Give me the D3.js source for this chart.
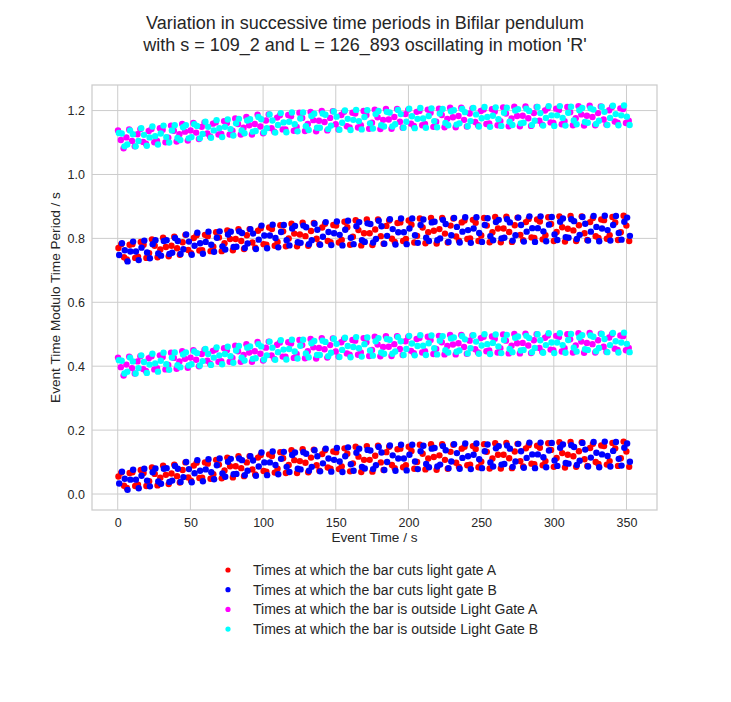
<!DOCTYPE html>
<html><head><meta charset="utf-8">
<script src="https://cdn.jsdelivr.net/npm/d3@7"></script>
<style>
body{margin:0;background:#fff}
text{font-family:"Liberation Sans",Arial,Helvetica,sans-serif;fill:#262626}
</style>
</head><body>
<svg id="chart" width="731" height="702"></svg>
<script>
// ---------- data (y values in milliseconds) ----------
const titleLines = ["Variation in successive time periods in Bifilar pendulum",
                    "with s = 109_2 and L = 126_893 oscillating in motion 'R'"];
const xLabel = "Event Time / s";
const yLabel = "Event Time Modulo Time Period / s";
const xTickValues = [0, 50, 100, 150, 200, 250, 300, 350];
const yTickValues = [0.0, 0.2, 0.4, 0.6, 0.8, 1.0, 1.2];
const legendLabels = ["Times at which the bar cuts light gate A",
                      "Times at which the bar cuts light gate B",
                      "Times at which the bar is outside Light Gate A",
                      "Times at which the bar is outside Light Gate B"];
const seriesColors = ["#ff0000", "#0000ff", "#ff00ff", "#00ffff"];
const eventStep = 1.92;            // seconds between successive events of one kind
const eventStart = [0.5, 1.0, 0.2, 0.8];

const redLowMs = [55,67,26,19,66,68,25,29,75,66,25,40,83,63,27,51,89,60,31,64,92,56,36,75,99,52,42,89,98,50,51,99,95,48,62,107,92,49,74,114,87,52,87,118,81,56,99,118,77,61,114,122,72,70,124,119,67,79,131,112,66,91,137,106,66,103,140,98,68,114,139,90,73,125,137,83,79,133,131,78,86,143,126,71,96,148,117,69,107,150,107,70,120,151,99,75,131,148,91,81,140,142,84,90,148,135,79,100,154,126,77,111,156,116,76,121,156,107,79,132,154,98,85,142,148,90,92,150,141,84,101,156,132,80,111,159,123,80,123,160,112,81,133,157,103,86,143,153,95,93,151,145,90,103,159,138,85,113,162,128,83,123,163,118,85,134,162,109,88,144,157,100,94,152,150,92,103,160,143,88,112,164,133,85];
const redHighMs = [770,782,741,734,780,782,739,743,789,780,739,754,797,777,741,765,802,773,744,777,805,769,749,788,811,764,754,801,810,762,763,811,807,760,774,819,803,760,785,825,798,763,798,829,792,767,810,829,787,771,824,832,782,780,834,829,777,789,841,822,775,800,846,815,775,812,849,807,777,823,848,799,782,834,846,792,788,842,840,787,795,852,835,780,805,857,826,778,816,859,816,779,828,859,807,783,839,856,799,789,848,850,792,798,856,843,787,808,862,834,785,819,864,824,784,829,864,815,787,840,862,806,793,850,856,798,800,858,849,792,809,864,840,788,819,867,831,788,831,868,820,789,841,865,811,794,851,861,803,801,859,853,797,810,866,845,792,820,869,835,790,830,870,825,792,841,869,816,795,851,864,807,801,859,857,799,810,867,850,795,819,871,840,792];
const blueLowMs = [33,70,48,13,45,76,45,18,57,79,42,24,68,80,39,32,79,81,38,42,88,79,38,53,100,78,37,65,106,73,40,77,109,68,46,90,111,64,54,101,110,62,63,111,106,59,73,118,105,57,86,130,99,59,99,133,91,62,110,132,85,69,122,130,79,77,131,126,73,85,137,118,71,96,142,111,70,107,144,102,69,118,146,93,73,129,142,85,80,138,136,78,90,147,130,75,100,152,121,73,111,154,111,74,123,154,102,78,134,151,94,84,142,144,86,92,150,137,81,102,156,128,79,113,158,118,78,123,158,109,81,134,155,99,86,143,150,92,94,152,142,85,102,157,134,82,113,161,124,81,124,161,115,84,136,160,105,88,145,155,97,95,153,147,91,104,160,139,86,114,163,129,84,124,164,119,86,135,163,110,89,145,158,101];
const blueHighMs = [748,785,763,728,759,790,759,732,771,793,756,738,782,794,753,746,792,794,751,755,801,792,751,766,812,790,749,777,818,785,752,789,821,780,758,802,822,775,765,812,821,773,774,822,817,770,784,829,815,767,796,840,809,769,809,843,801,772,820,842,794,778,831,839,788,786,840,835,782,794,846,827,780,805,851,820,779,816,853,811,778,827,855,802,782,838,851,794,789,847,845,787,798,855,838,783,808,860,829,781,819,862,819,782,831,862,810,786,842,859,802,792,850,852,794,800,858,845,789,810,864,836,787,821,866,826,786,831,866,817,789,842,863,807,794,851,858,800,802,860,850,793,810,865,842,790,821,869,832,789,832,869,822,791,843,867,812,795,852,862,804,802,860,854,798,811,867,846,793,821,870,836,791,831,871,826,793,842,870,817,796,852,865,808];
const magentaLowMs = [427,397,371,405,430,394,377,415,431,391,385,425,431,390,394,434,429,390,404,442,426,392,415,447,423,395,427,450,420,400,438,452,417,408,448,452,414,416,456,450,414,426,464,447,414,435,469,443,414,447,476,439,418,458,477,434,423,467,474,430,430,475,471,426,438,482,466,425,447,485,459,424,457,488,453,427,466,487,446,430,475,485,440,436,482,480,436,443,488,475,432,451,492,468,431,460,494,461,432,469,494,454,435,478,492,448,441,485,488,443,447,492,482,438,454,495,475,437,463,498,468,437,472,498,460,439,480,496,453,443,488,492,447,449,493,486,443,456,499,480,440,464,501,472,440,473,502,465,441,481,500,457,445,489,496,452,450,495,491,446,456,500,484,443,465,503,477,442,473,504,469,443,481,502,461,445,490,500,455,451,496,494,450,457];
const magentaHighMs = [1138,1108,1082,1116,1141,1105,1088,1126,1142,1102,1096,1136,1142,1101,1105,1145,1140,1101,1115,1153,1137,1103,1126,1158,1134,1106,1138,1161,1131,1111,1149,1163,1128,1119,1159,1163,1125,1127,1167,1161,1125,1137,1175,1158,1125,1146,1180,1154,1125,1158,1187,1150,1129,1169,1188,1145,1134,1178,1185,1141,1141,1186,1182,1137,1149,1193,1177,1136,1158,1196,1170,1135,1168,1199,1164,1138,1177,1198,1157,1141,1186,1196,1151,1147,1193,1191,1147,1154,1199,1186,1143,1162,1203,1179,1142,1171,1205,1172,1143,1180,1205,1165,1146,1189,1203,1159,1152,1196,1199,1154,1158,1203,1193,1149,1165,1206,1186,1148,1174,1209,1179,1148,1183,1209,1171,1150,1191,1207,1164,1154,1199,1203,1158,1160,1204,1197,1154,1167,1210,1191,1151,1175,1212,1183,1151,1184,1213,1176,1152,1192,1211,1168,1156,1200,1207,1163,1161,1206,1202,1157,1167,1211,1195,1154,1176,1214,1188,1153,1184,1215,1180,1154,1192,1213,1172,1156,1201,1211,1166,1162,1207,1205,1161,1168];
const cyanLowMs = [419,417,377,383,427,415,377,394,434,413,379,405,439,409,383,417,442,406,389,427,443,403,397,437,443,402,406,446,441,402,416,454,438,404,427,459,434,406,438,461,431,411,449,463,427,418,458,462,423,425,469,462,421,434,477,458,420,444,481,452,421,454,483,446,424,464,483,440,428,472,479,435,435,480,476,431,442,486,470,429,451,489,463,428,460,491,456,430,469,490,449,433,478,488,443,439,485,483,439,446,491,478,435,454,495,471,434,463,497,464,435,472,496,456,437,480,494,450,443,487,490,445,449,494,484,440,456,497,477,439,465,500,469,438,473,499,462,441,482,498,454,444,489,493,449,451,495,488,444,457,500,481,442,466,503,474,441,474,503,466,442,482,501,458,446,490,497,453,451,496,492,447,457,501,485,444,466,504,478,443,474,505,470,444];
const cyanHighMs = [1130,1128,1088,1094,1138,1126,1088,1105,1145,1124,1090,1116,1150,1120,1094,1128,1153,1117,1100,1138,1154,1114,1108,1148,1154,1113,1117,1157,1152,1113,1127,1165,1149,1115,1138,1170,1145,1117,1149,1172,1142,1122,1160,1174,1138,1129,1169,1173,1134,1136,1180,1173,1132,1145,1188,1169,1131,1155,1192,1163,1132,1165,1194,1157,1135,1175,1194,1151,1139,1183,1190,1146,1146,1191,1187,1142,1153,1197,1181,1140,1162,1200,1174,1139,1171,1202,1167,1141,1180,1201,1160,1144,1189,1199,1154,1150,1196,1194,1150,1157,1202,1189,1146,1165,1206,1182,1145,1174,1208,1175,1146,1183,1207,1167,1148,1191,1205,1161,1154,1198,1201,1156,1160,1205,1195,1151,1167,1208,1188,1150,1176,1211,1180,1149,1184,1210,1173,1152,1193,1209,1165,1155,1200,1204,1160,1162,1206,1199,1155,1168,1211,1192,1153,1177,1214,1185,1152,1185,1214,1177,1153,1193,1212,1169,1157,1201,1208,1164,1162,1207,1203,1158,1168,1212,1196,1155,1177,1215,1189,1154,1185,1216,1181,1155];

// series index -> its two bands
const seriesBands = [
  [redLowMs, redHighMs],
  [blueLowMs, blueHighMs],
  [magentaLowMs, magentaHighMs],
  [cyanLowMs, cyanHighMs]
];

// ---------- layout ----------
const W = 731, H = 702;
const plot = {left: 92, right: 657, top: 85, bottom: 510};
const svg = d3.select("#chart");

const x = d3.scaleLinear().domain([-17.7, 371]).range([plot.left, plot.right]);
const y = d3.scaleLinear().domain([-0.05, 1.28]).range([plot.bottom, plot.top]);

svg.append("rect").attr("width", W).attr("height", H).attr("fill", "#fff");

// grid
const grid = svg.append("g");
grid.selectAll("line.gx").data(xTickValues).enter().append("line")
  .attr("x1", d => x(d)).attr("x2", d => x(d))
  .attr("y1", plot.top).attr("y2", plot.bottom)
  .attr("stroke", "#cccccc").attr("stroke-width", 1);
grid.selectAll("line.gy").data(yTickValues).enter().append("line")
  .attr("y1", d => y(d)).attr("y2", d => y(d))
  .attr("x1", plot.left).attr("x2", plot.right)
  .attr("stroke", "#cccccc").attr("stroke-width", 1);

// frame
svg.append("rect")
  .attr("x", plot.left).attr("y", plot.top)
  .attr("width", plot.right - plot.left).attr("height", plot.bottom - plot.top)
  .attr("fill", "none").attr("stroke", "#cccccc").attr("stroke-width", 1.25);

// axes (labels only, whitegrid style)
const xAxis = d3.axisBottom(x).tickValues(xTickValues).tickSize(0).tickPadding(8).tickFormat(d3.format("d"));
const yAxis = d3.axisLeft(y).tickValues(yTickValues).tickSize(0).tickPadding(7).tickFormat(d3.format(".1f"));
const gx = svg.append("g").attr("transform", `translate(0,${plot.bottom})`).call(xAxis);
const gy = svg.append("g").attr("transform", `translate(${plot.left},0)`).call(yAxis);
[gx, gy].forEach(g => {
  g.select(".domain").remove();
  g.selectAll("text").style("font-size", "12.5px").style("font-family", '"Liberation Sans",Arial,sans-serif').attr("fill", "#262626");
});

// points
svg.append("clipPath").attr("id", "clipP").append("rect")
  .attr("x", plot.left).attr("y", plot.top)
  .attr("width", plot.right - plot.left).attr("height", plot.bottom - plot.top);
const pts = svg.append("g").attr("clip-path", "url(#clipP)");
seriesBands.forEach((bands, si) => {
  const data = [];
  bands.forEach(arr => arr.forEach((v, i) => data.push({t: eventStart[si] + eventStep * i, v: v / 1000})));
  pts.append("g").selectAll("circle").data(data).enter().append("circle")
    .attr("cx", d => x(d.t)).attr("cy", d => y(d.v)).attr("r", 3.2)
    .attr("fill", seriesColors[si]);
});

// title
svg.append("g").selectAll("text").data(titleLines).enter().append("text")
  .attr("x", 365).attr("y", (d, i) => 28.5 + i * 22)
  .attr("text-anchor", "middle").style("font-size", "18px").text(d => d);

// axis labels
svg.append("text").attr("x", (plot.left + plot.right) / 2).attr("y", 542)
  .attr("text-anchor", "middle").style("font-size", "13.6px").text(xLabel);
svg.append("text").attr("transform", `translate(60,${(plot.top + plot.bottom) / 2}) rotate(-90)`)
  .attr("text-anchor", "middle").style("font-size", "13.6px").text(yLabel);

// legend
const lg = svg.append("g");
legendLabels.forEach((lab, i) => {
  const yy = 570 + i * 19.7;
  lg.append("circle").attr("cx", 228).attr("cy", yy).attr("r", 2.6).attr("fill", seriesColors[i]);
  lg.append("text").attr("x", 253).attr("y", yy + 5).style("font-size", "14px").text(lab);
});
</script>
</body></html>
